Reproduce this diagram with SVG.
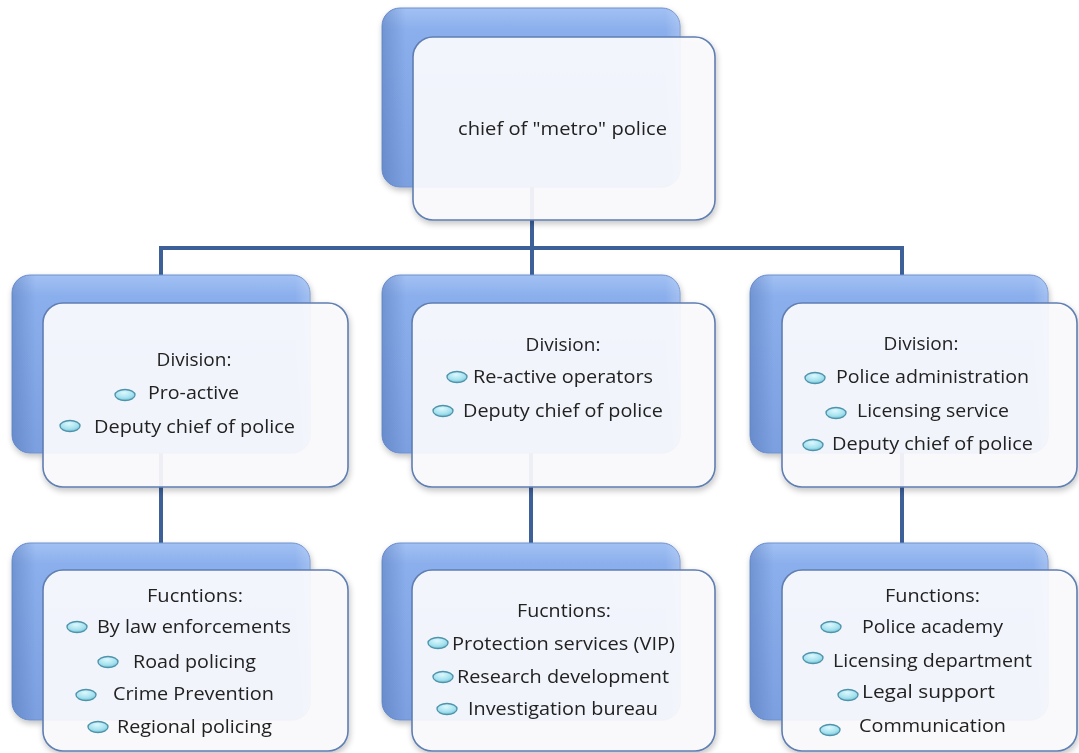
<svg xmlns="http://www.w3.org/2000/svg" width="1079" height="753" viewBox="0 0 1079 753">
<defs>
<linearGradient id="bk" x1="0" y1="0" x2="0" y2="1">
<stop offset="0" stop-color="#a2c1f4"/>
<stop offset="0.12" stop-color="#8bafec"/>
<stop offset="1" stop-color="#7c9fe0"/>
</linearGradient>
<linearGradient id="bkside" x1="0" y1="0" x2="1" y2="0">
<stop offset="0" stop-color="#4f72b3" stop-opacity="0.45"/>
<stop offset="0.08" stop-color="#4f72b3" stop-opacity="0"/>
<stop offset="0.95" stop-color="#ffffff" stop-opacity="0"/>
<stop offset="1" stop-color="#ffffff" stop-opacity="0.2"/>
</linearGradient>
<radialGradient id="bul" cx="0.45" cy="0.3" r="0.75">
<stop offset="0" stop-color="#dcf8fd"/>
<stop offset="0.6" stop-color="#a6e2ef"/>
<stop offset="1" stop-color="#6fbfd4"/>
</radialGradient>
<filter id="sh" x="-10%" y="-10%" width="125%" height="125%">
<feGaussianBlur in="SourceAlpha" stdDeviation="3"/>
<feOffset dx="1" dy="3"/>
<feComponentTransfer><feFuncA type="linear" slope="0.25"/></feComponentTransfer>
<feMerge><feMergeNode/><feMergeNode in="SourceGraphic"/></feMerge>
</filter>
</defs>
<style>
.back{fill:url(#bk);stroke:#6f91cc;stroke-width:1;}
.side{fill:url(#bkside);}
.front{fill:#fbfbfd;fill-opacity:0.92;stroke:#5f7eb2;stroke-width:1.6;}
.con{fill:none;stroke:#3d6098;stroke-width:4;}
.t{font-family:"Open Sans","DejaVu Sans",sans-serif;font-size:19px;fill:#222222;}
.m{text-anchor:middle;}
.b{fill:url(#bul);stroke:#4f93ab;stroke-width:1.3;}
</style>
<rect width="1079" height="753" fill="#ffffff"/>
<g id="connectors">
<path class="con" d="M532,100 V275"/>
<path class="con" d="M161,275 V248 H902 V275"/>
<path class="con" d="M161,380 V543"/>
<path class="con" d="M531,380 V543"/>
<path class="con" d="M902,380 V543"/>
</g>
<g id="chief" filter="url(#sh)">
<rect class="back" x="382" y="8" width="298" height="179" rx="18"/>
<rect class="side" x="382" y="8" width="298" height="179" rx="18"/>
<rect class="front" x="413" y="37" width="302" height="183" rx="20"/>
<text class="t" x="458" y="135" textLength="209" lengthAdjust="spacingAndGlyphs">chief of "metro" police</text>
</g>
<g id="div-proactive" filter="url(#sh)">
<rect class="back" x="12" y="275" width="298" height="178" rx="18"/>
<rect class="side" x="12" y="275" width="298" height="178" rx="18"/>
<rect class="front" x="43" y="303" width="305" height="184" rx="20"/>
<text class="t m" x="194" y="366">Division:</text>
<ellipse class="b" cx="125" cy="395" rx="10" ry="5.5"/>
<text class="t" x="148" y="399" textLength="91" lengthAdjust="spacingAndGlyphs">Pro-active</text>
<ellipse class="b" cx="70" cy="426" rx="10" ry="5.5"/>
<text class="t" x="94" y="433" textLength="201" lengthAdjust="spacingAndGlyphs">Deputy chief of police</text>
</g>
<g id="div-reactive" filter="url(#sh)">
<rect class="back" x="382" y="275" width="298" height="178" rx="18"/>
<rect class="side" x="382" y="275" width="298" height="178" rx="18"/>
<rect class="front" x="412" y="303" width="303" height="184" rx="20"/>
<text class="t m" x="563" y="351">Division:</text>
<ellipse class="b" cx="457" cy="377" rx="10" ry="5.5"/>
<text class="t" x="473" y="383" textLength="180" lengthAdjust="spacingAndGlyphs">Re-active operators</text>
<ellipse class="b" cx="443" cy="411" rx="10" ry="5.5"/>
<text class="t" x="463" y="417" textLength="200" lengthAdjust="spacingAndGlyphs">Deputy chief of police</text>
</g>
<g id="div-admin" filter="url(#sh)">
<rect class="back" x="750" y="275" width="298" height="178" rx="18"/>
<rect class="side" x="750" y="275" width="298" height="178" rx="18"/>
<rect class="front" x="782" y="303" width="295" height="184" rx="20"/>
<text class="t m" x="921" y="350">Division:</text>
<ellipse class="b" cx="815" cy="378" rx="10" ry="5.5"/>
<text class="t" x="836" y="383" textLength="193" lengthAdjust="spacingAndGlyphs">Police administration</text>
<ellipse class="b" cx="836" cy="413" rx="10" ry="5.5"/>
<text class="t" x="857" y="417" textLength="152" lengthAdjust="spacingAndGlyphs">Licensing service</text>
<ellipse class="b" cx="813" cy="445" rx="10" ry="5.5"/>
<text class="t" x="832" y="450" textLength="201" lengthAdjust="spacingAndGlyphs">Deputy chief of police</text>
</g>
<g id="fn-proactive" filter="url(#sh)">
<rect class="back" x="12" y="543" width="298" height="177" rx="18"/>
<rect class="side" x="12" y="543" width="298" height="177" rx="18"/>
<rect class="front" x="43" y="570" width="305" height="181" rx="20"/>
<text class="t" x="147" y="602" textLength="96" lengthAdjust="spacingAndGlyphs">Fucntions:</text>
<ellipse class="b" cx="77" cy="627" rx="10" ry="5.5"/>
<text class="t" x="97" y="633" textLength="194" lengthAdjust="spacingAndGlyphs">By law enforcements</text>
<ellipse class="b" cx="108" cy="662" rx="10" ry="5.5"/>
<text class="t" x="133" y="668" textLength="123" lengthAdjust="spacingAndGlyphs">Road policing</text>
<ellipse class="b" cx="86" cy="695" rx="10" ry="5.5"/>
<text class="t" x="113" y="700" textLength="161" lengthAdjust="spacingAndGlyphs">Crime Prevention</text>
<ellipse class="b" cx="98" cy="727" rx="10" ry="5.5"/>
<text class="t" x="117" y="733" textLength="155" lengthAdjust="spacingAndGlyphs">Regional policing</text>
</g>
<g id="fn-reactive" filter="url(#sh)">
<rect class="back" x="382" y="543" width="298" height="177" rx="18"/>
<rect class="side" x="382" y="543" width="298" height="177" rx="18"/>
<rect class="front" x="412" y="570" width="303" height="181" rx="20"/>
<text class="t" x="517" y="617" textLength="94" lengthAdjust="spacingAndGlyphs">Fucntions:</text>
<ellipse class="b" cx="438" cy="643" rx="10" ry="5.5"/>
<text class="t" x="452" y="650" textLength="223" lengthAdjust="spacingAndGlyphs">Protection services (VIP)</text>
<ellipse class="b" cx="443" cy="677" rx="10" ry="5.5"/>
<text class="t" x="457" y="683" textLength="212" lengthAdjust="spacingAndGlyphs">Research development</text>
<ellipse class="b" cx="447" cy="709" rx="10" ry="5.5"/>
<text class="t" x="468" y="715" textLength="190" lengthAdjust="spacingAndGlyphs">Investigation bureau</text>
</g>
<g id="fn-admin" filter="url(#sh)">
<rect class="back" x="750" y="543" width="298" height="177" rx="18"/>
<rect class="side" x="750" y="543" width="298" height="177" rx="18"/>
<rect class="front" x="782" y="570" width="295" height="181" rx="20"/>
<text class="t" x="885" y="602" textLength="95" lengthAdjust="spacingAndGlyphs">Functions:</text>
<ellipse class="b" cx="831" cy="627" rx="10" ry="5.5"/>
<text class="t" x="862" y="633" textLength="141" lengthAdjust="spacingAndGlyphs">Police academy</text>
<ellipse class="b" cx="813" cy="658" rx="10" ry="5.5"/>
<text class="t" x="833" y="667" textLength="199" lengthAdjust="spacingAndGlyphs">Licensing department</text>
<ellipse class="b" cx="848" cy="695" rx="10" ry="5.5"/>
<text class="t" x="862" y="698" textLength="133" lengthAdjust="spacingAndGlyphs">Legal support</text>
<ellipse class="b" cx="830" cy="730" rx="10" ry="5.5"/>
<text class="t" x="859" y="732" textLength="147" lengthAdjust="spacingAndGlyphs">Communication</text>
</g>
</svg>
